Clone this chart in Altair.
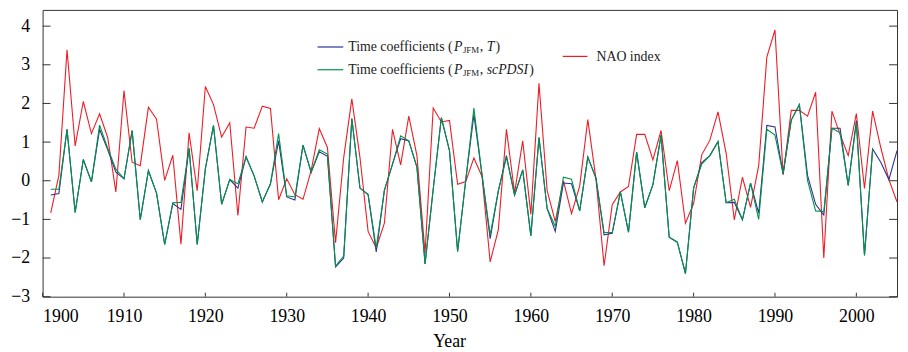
import altair as alt
import pandas as pd

# ---------------- data ----------------
years = list(range(1901, 2006))

# Time coefficients (P_JFM, T)  -- blue
t_coef = [
    -0.37, -0.33, 1.33, -0.82, 0.55, -0.03, 1.33, 0.80, 0.22, 0.05,   # 1901-1910
    1.30, -1.01, 0.26, -0.32, -1.65, -0.59, -0.74, 0.84, -1.65, 0.31,  # 1911-1920
    1.43, -0.61, 0.03, -0.19, 0.62, 0.12, -0.55, -0.08, 1.03, -0.42,   # 1921-1930
    -0.50, 0.92, 0.22, 0.75, 0.63, -2.23, -2.00, 1.61, -0.19, -0.36,   # 1931-1940
    -1.84, -0.25, 0.43, 1.09, 1.03, 0.35, -2.15, -0.22, 1.63, 0.78,    # 1941-1950
    -1.83, 0.02, 1.71, 0.15, -1.50, -0.27, 0.65, -0.37, 0.28, -1.42,   # 1951-1960
    1.12, -0.72, -1.31, -0.06, -0.08, -0.78, 0.61, 0.07, -1.40, -1.36, # 1961-1970
    -0.29, -1.33, 0.74, -0.70, -0.10, 1.18, -1.46, -1.59, -2.40, -0.19,# 1971-1980
    0.47, 0.65, 1.01, -0.57, -0.56, -1.01, -0.06, -0.84, 1.43, 1.39,   # 1981-1990
    0.18, 1.57, 1.97, 0.14, -0.61, -0.89, 1.36, 1.36, -0.12, 1.56,     # 1991-2000
    -1.93, 0.82, 0.48, 0.03, 0.78,                                      # 2001-2005
]

# Time coefficients (P_JFM, scPDSI)  -- green (ends 2002)
pdsi_coef = [
    -0.22, -0.22, 1.33, -0.82, 0.55, -0.03, 1.44, 0.84, 0.30, 0.05,
    1.30, -1.01, 0.26, -0.32, -1.65, -0.57, -0.56, 0.84, -1.65, 0.31,
    1.43, -0.61, 0.03, -0.08, 0.62, 0.12, -0.55, -0.08, 1.22, -0.39,
    -0.42, 0.92, 0.22, 0.80, 0.69, -2.21, -1.95, 1.61, -0.19, -0.36,
    -1.74, -0.25, 0.43, 1.16, 1.03, 0.35, -2.15, -0.22, 1.63, 0.78,
    -1.83, 0.02, 1.88, 0.15, -1.40, -0.27, 0.61, -0.37, 0.28, -1.42,
    1.12, -0.72, -1.18, 0.09, 0.04, -0.78, 0.61, 0.07, -1.34, -1.34,
    -0.29, -1.33, 0.74, -0.70, -0.10, 1.18, -1.46, -1.59, -2.40, -0.19,
    0.43, 0.65, 1.01, -0.57, -0.48, -1.01, -0.06, -1.00, 1.33, 1.18,
    0.18, 1.57, 1.97, 0.01, -0.78, -0.80, 1.36, 1.24, -0.12, 1.50,
    -1.93, 0.82,
]

# NAO index -- red
nao = [
    -0.83, 0.14, 3.39, 0.90, 2.05, 1.22, 1.73, 1.12, -0.29, 2.33,
    0.48, 0.39, 1.90, 1.59, 0.01, 0.66, -1.64, 1.24, -0.26, 2.44,
    1.97, 1.13, 1.50, -0.90, 1.39, 1.36, 1.93, 1.87, -0.49, 0.05,
    -0.36, -0.48, 0.26, 1.35, 0.86, -1.60, 0.60, 2.12, 0.60, -1.31,
    -1.74, -1.10, 1.33, 0.41, 1.67, 0.65, -1.87, 1.88, 1.52, 1.56,
    -0.09, -0.02, 0.59, 0.11, -2.10, -1.27, 1.33, -0.31, 1.03, -0.87,
    2.52, -0.25, -1.06, 0.00, -0.85, -0.14, 1.58, 0.05, -2.20, -0.62,
    -0.29, -0.15, 1.20, 1.20, 0.54, 1.30, -0.26, 0.52, -1.10, -0.59,
    0.67, 1.05, 1.78, 0.71, -1.01, 0.09, -0.69, 0.39, 3.20, 3.90,
    0.15, 1.82, 1.82, 1.67, 2.29, -2.00, 1.80, 1.20, 0.65, 1.74,
    -0.20, 1.80, 0.86, 0.03, -0.55,
]

x_tick_values = list(range(1900, 2001, 10))
y_tick_values = list(range(-3, 5))

# ---------------- styling ----------------
FONT = "Liberation Serif"
AX = "#333333"
BLUE = "#2e3192"
GREEN = "#00934a"
RED = "#ee1c25"
W, H = 864, 290

df_t = pd.DataFrame({"year": years, "value": t_coef})
df_p = pd.DataFrame({"year": years[:len(pdsi_coef)], "value": pdsi_coef})
df_n = pd.DataFrame({"year": years, "value": nao})
df_xt = pd.DataFrame({"year": x_tick_values})
df_yt = pd.DataFrame({"value": y_tick_values})
one = pd.DataFrame({"k": [0]})

xscale = alt.Scale(domain=[1900, 2005], nice=False, zero=False)
yscale = alt.Scale(domain=[-3, 4.42], nice=False, zero=False)

x_axis = alt.Axis(
    values=x_tick_values, format="d", ticks=False, domain=False, grid=False,
    labelFont=FONT, labelFontSize=18, labelColor="black", labelPadding=11,
    title="Year", titleFont=FONT, titleFontSize=18, titleFontWeight="normal",
    titleColor="black", titleX=411, titleY=50, titleAlign="center",
    titleBaseline="alphabetic",
)
y_axis = alt.Axis(
    values=y_tick_values, format="d", ticks=False, domain=False, grid=False,
    labelFont=FONT, labelFontSize=18, labelColor="black", labelPadding=13,
    title=None,
)

X = alt.X("year:Q", scale=xscale, axis=x_axis)
Y = alt.Y("value:Q", scale=yscale, axis=y_axis)


def series(df, color):
    return alt.Chart(df).mark_line(color=color, strokeWidth=1.1).encode(x=X, y=Y)


red_line = series(df_n, RED)
blue_line = series(df_t, BLUE)
green_line = series(df_p, GREEN)

# inward tick marks on left, right and bottom of the frame
left_ticks = alt.Chart(df_yt).mark_rule(color=AX, strokeWidth=1).encode(
    y=Y, x=alt.value(0), x2=alt.value(8))
right_ticks = alt.Chart(df_yt).mark_rule(color=AX, strokeWidth=1).encode(
    y=Y, x=alt.value(W - 8), x2=alt.value(W))
bottom_ticks = alt.Chart(df_xt).mark_rule(color=AX, strokeWidth=1).encode(
    x=X, y=alt.value(H - 4), y2=alt.value(H))


# ---------------- legend (drawn by hand for the subscripts) ----------------
def seg(text, x, y, size=14, style="normal"):
    return alt.Chart(one).mark_text(
        font=FONT, fontSize=size, fontStyle=style, color="#222222",
        align="left", baseline="middle",
    ).encode(x=alt.value(x), y=alt.value(y), text=alt.value(text))


def key(color, x1, x2, y):
    return alt.Chart(one).mark_rule(color=color, strokeWidth=1.2).encode(
        x=alt.value(x1), x2=alt.value(x2), y=alt.value(y))


L1, L2 = 37.5, 60.5
legend = [
    key(BLUE, 278, 304, L1),
    seg("Time coefficients (", 309, L1),
    seg("P", 416, L1, style="italic"),
    seg("JFM", 425, L1 + 3.5, size=9),
    seg(",", 442, L1),
    seg("T", 449, L1, style="italic"),
    seg(")", 458, L1),
    key(GREEN, 278, 304, L2),
    seg("Time coefficients (", 309, L2),
    seg("P", 416, L2, style="italic"),
    seg("JFM", 425, L2 + 3.5, size=9),
    seg(",", 442, L2),
    seg("scPDSI", 449, L2, style="italic"),
    seg(")", 492, L2),
    key(RED, 526, 551, 47),
    seg("NAO index", 560, 47.5),
]

chart = alt.layer(
    red_line, blue_line, green_line, left_ticks, right_ticks, bottom_ticks, *legend
).properties(
    width=W, height=H,
    padding={"left": 2, "top": 0, "right": 0, "bottom": 0},
    background="white",
).configure_view(stroke=AX, strokeWidth=1)

chart.save("out.html", embed_options={"renderer": "svg", "actions": False})
